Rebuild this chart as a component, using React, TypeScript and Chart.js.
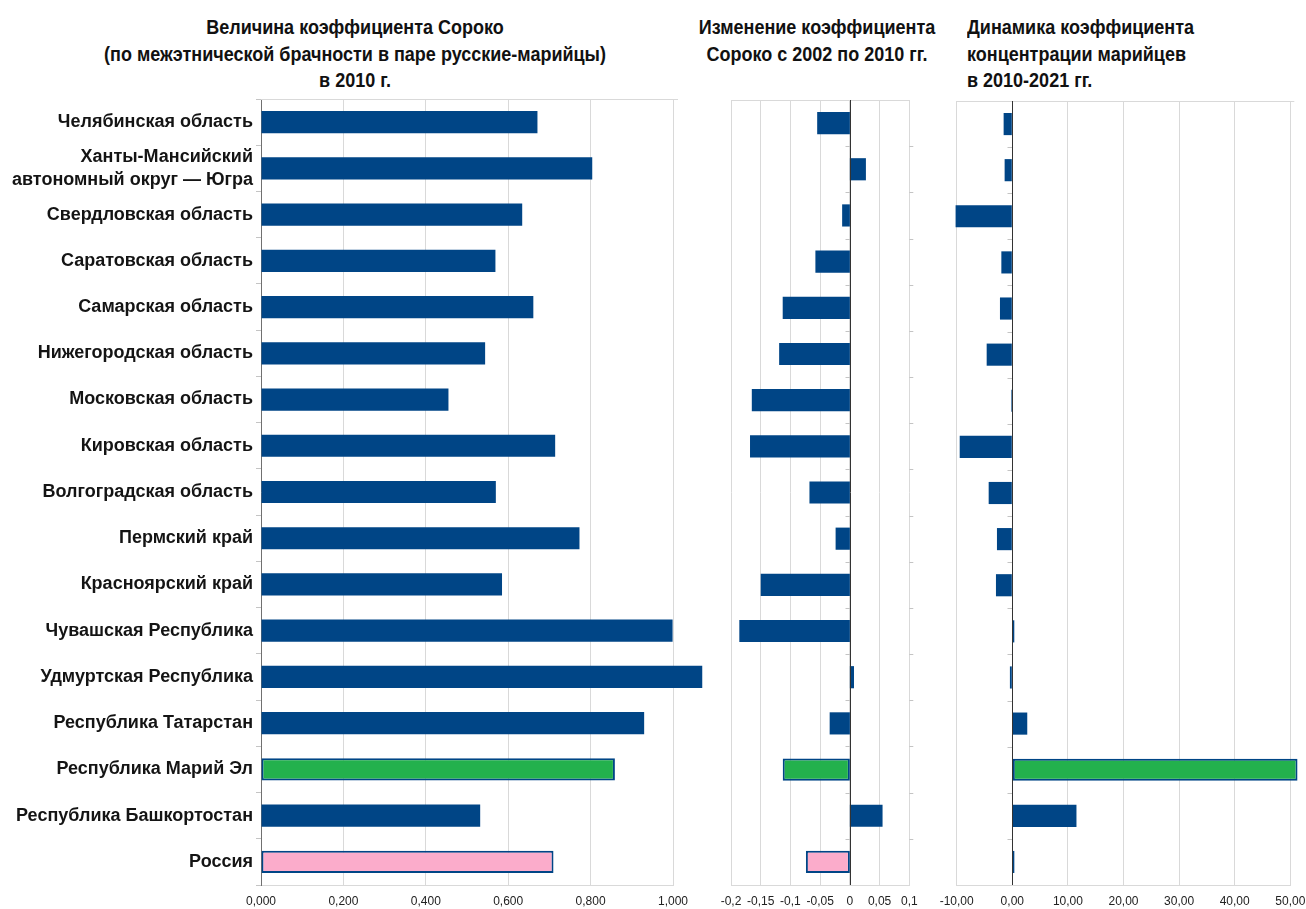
import React, { useEffect, useRef } from 'react';
import { Chart, registerables } from 'chart.js';

Chart.register(...registerables);

const categories: (string | string[])[] = [
  'Челябинская область',
  ['Ханты-Мансийский', 'автономный округ — Югра'],
  'Свердловская область',
  'Саратовская область',
  'Самарская область',
  'Нижегородская область',
  'Московская область',
  'Кировская область',
  'Волгоградская область',
  'Пермский край',
  'Красноярский край',
  'Чувашская Республика',
  'Удмуртская Республика',
  'Республика Татарстан',
  'Республика Марий Эл',
  'Республика Башкортостан',
  'Россия',
];

const soroko2010 = [0.671, 0.804, 0.634, 0.569, 0.661, 0.544, 0.455, 0.714, 0.570, 0.773, 0.585, 0.999, 1.071, 0.930, 0.859, 0.532, 0.710];
const sorokoChange = [-0.055, 0.027, -0.013, -0.058, -0.113, -0.119, -0.165, -0.168, -0.068, -0.024, -0.150, -0.186, 0.007, -0.034, -0.113, 0.055, -0.074];
const concentrationChange = [-1.56, -1.38, -10.2, -1.97, -2.22, -4.61, -0.2, -9.46, -4.25, -2.76, -2.94, 0.36, -0.43, 2.69, 51.3, 11.54, 0.41];

const titles = {
  soroko: ['Величина коэффициента Сороко', '(по межэтнической брачности в паре русские-марийцы)', 'в 2010 г.'],
  change: ['Изменение коэффициента', 'Сороко с 2002 по 2010 гг.'],
  conc: ['Динамика коэффициента', 'концентрации марийцев', 'в 2010-2021 гг.'],
};

const BLUE = '#004586';
const GREEN = '#23b14d';
const PINK = '#fbaccb';
const HIGHLIGHT_GREEN = 'Республика Марий Эл';
const HIGHLIGHT_PINK = 'Россия';

const fillColors = categories.map((c) =>
  c === HIGHLIGHT_GREEN ? GREEN : c === HIGHLIGHT_PINK ? PINK : BLUE
);
const borderWidths = categories.map((c) => (c === HIGHLIGHT_GREEN || c === HIGHLIGHT_PINK ? 2 : 0));

const framePlugin = {
  id: 'frame',
  beforeDatasetsDraw(chart: any, _args: any, opts: any) {
    const { ctx, chartArea, scales } = chart;
    ctx.save();
    ctx.strokeStyle = '#d9d9d9';
    ctx.lineWidth = 1;
    ctx.beginPath();
    ctx.moveTo(chartArea.left, Math.round(chartArea.top) + 0.5);
    ctx.lineTo(chartArea.right + (opts.topExtra || 0), Math.round(chartArea.top) + 0.5);
    ctx.stroke();
    if (opts.zeroTicks) {
      const ys = scales.y;
      const x = Math.round(scales.x.getPixelForValue(0)) + 0.5;
      const p0 = ys.getPixelForValue(0);
      const step = ys.getPixelForValue(1) - p0;
      ctx.strokeStyle = '#c4c4c4';
      for (let k = 1; k < categories.length; k++) {
        const yy = Math.round(p0 - step / 2 + k * step) + 0.5;
        ctx.beginPath();
        ctx.moveTo(x - 5, yy);
        ctx.lineTo(x, yy);
        ctx.stroke();
        if (opts.rightTicks) {
          ctx.beginPath();
          ctx.moveTo(chartArea.right, yy);
          ctx.lineTo(chartArea.right + 4, yy);
          ctx.stroke();
        }
      }
    }
    ctx.restore();
  },
  afterDatasetsDraw(chart: any, _args: any, opts: any) {
    if (!opts.zeroAxis) return;
    const { ctx, chartArea, scales } = chart;
    const x = Math.round(scales.x.getPixelForValue(0)) + 0.5;
    ctx.save();
    ctx.strokeStyle = '#333333';
    ctx.lineWidth = 1;
    ctx.beginPath();
    ctx.moveTo(x, chartArea.top);
    ctx.lineTo(x, chartArea.bottom);
    ctx.stroke();
    ctx.restore();
  },
};

const tickFont = { family: '"Liberation Sans", Arial, sans-serif', size: 12 };

function fmt(decimals: number, strip: boolean) {
  return (v: any) => {
    const n = Number(v);
    let s = n.toFixed(decimals);
    if (strip) s = String(parseFloat(s));
    return s.replace('.', ',');
  };
}

function makeConfig(opts: {
  data: number[];
  min: number;
  max: number;
  step: number;
  format: (v: any) => string;
  showLabels: boolean;
  padding: { left: number; right: number; top: number; bottom: number };
  plugin: any;
}) {
  return {
    type: 'bar' as const,
    data: {
      labels: categories,
      datasets: [
        {
          data: opts.data,
          backgroundColor: fillColors,
          borderColor: BLUE,
          borderWidth: borderWidths,
          borderSkipped: false,
          categoryPercentage: 1,
          barPercentage: 0.48,
          clip: false,
        },
      ],
    },
    options: {
      indexAxis: 'y' as const,
      responsive: false,
      animation: false,
      devicePixelRatio: 1,
      layout: { padding: opts.padding },
      plugins: {
        legend: { display: false },
        title: { display: false },
        tooltip: { enabled: false },
        frame: opts.plugin,
      },
      scales: {
        x: {
          type: 'linear',
          min: opts.min,
          max: opts.max,
          ticks: {
            stepSize: opts.step,
            callback: opts.format,
            font: tickFont,
            color: '#222',
            padding: 9,
            maxRotation: 0,
            autoSkip: false,
          },
          grid: { color: '#d9d9d9', drawTicks: false, lineWidth: 1 },
          border: { display: true, color: '#d9d9d9' },
          afterFit: (scale: any) => {
            scale.height = 24;
          },
        },
        y: opts.showLabels
          ? {
              type: 'category',
              offset: true,
              ticks: {
                font: { family: '"Liberation Sans", Arial, sans-serif', size: 18, weight: 'bold', lineHeight: 1.25 },
                color: '#141414',
                padding: 3,
                autoSkip: false,
              },
              grid: { drawOnChartArea: false, drawTicks: true, tickLength: 5, color: '#c4c4c4', offset: true },
              border: { display: true, color: '#707070' },
              afterFit: (scale: any) => {
                scale.width = 261;
              },
            }
          : {
              type: 'category',
              offset: true,
              display: false,
            },
      },
    },
    plugins: [framePlugin],
  };
}

function BarPanel(props: { left: number; width: number; config: any }) {
  const ref = useRef<HTMLCanvasElement | null>(null);
  useEffect(() => {
    if (!ref.current) return;
    const chart = new Chart(ref.current, props.config);
    return () => chart.destroy();
  }, []);
  return (
    <canvas
      ref={ref}
      width={props.width}
      height={909}
      style={{ position: 'absolute', left: props.left, top: 0, width: props.width, height: 909 }}
    />
  );
}

const titleStyle: React.CSSProperties = {
  position: 'absolute',
  top: 14,
  fontFamily: '"Liberation Sans Narrow", "Liberation Sans", Arial, sans-serif',
  fontWeight: 'bold',
  fontSize: 20,
  lineHeight: '26.5px',
  color: '#111',
  whiteSpace: 'nowrap',
};

function TitleBlock(props: { lines: string[]; left: number; width?: number; align: 'center' | 'left' }) {
  const origin = props.align === 'center' ? 'center top' : 'left top';
  return (
    <div
      style={{
        ...titleStyle,
        left: props.left,
        width: props.width,
        textAlign: props.align,
        transform: 'scaleX(0.9)',
        transformOrigin: origin,
      }}
    >
      {props.lines.map((t, i) => (
        <div key={i}>{t}</div>
      ))}
    </div>
  );
}

export default function App() {
  const cfg1 = makeConfig({
    data: soroko2010,
    min: 0,
    max: 1,
    step: 0.2,
    format: fmt(3, false),
    showLabels: true,
    padding: { left: 0, right: 47, top: 99, bottom: 0 },
    plugin: { topExtra: 5, zeroTicks: false, zeroAxis: false },
  });
  const cfg2 = makeConfig({
    data: sorokoChange,
    min: -0.2,
    max: 0.1,
    step: 0.05,
    format: fmt(2, true),
    showLabels: false,
    padding: { left: 31, right: 30.7, top: 100, bottom: 0 },
    plugin: { topExtra: 0, zeroTicks: true, rightTicks: true, zeroAxis: true },
  });
  const cfg3 = makeConfig({
    data: concentrationChange,
    min: -10,
    max: 50,
    step: 10,
    format: fmt(2, false),
    showLabels: false,
    padding: { left: 26.7, right: 39.7, top: 101, bottom: 0 },
    plugin: { topExtra: 4, zeroTicks: true, rightTicks: false, zeroAxis: true },
  });

  return (
    <div style={{ position: 'fixed', left: 0, top: 0, width: 1306, height: 909, background: '#fff', overflow: 'hidden' }}>
      <TitleBlock lines={titles.soroko} left={55} width={600} align="center" />
      <TitleBlock lines={titles.change} left={667} width={300} align="center" />
      <TitleBlock lines={titles.conc} left={967} align="left" />
      <BarPanel left={0} width={720} config={cfg1} />
      <BarPanel left={700} width={240} config={cfg2} />
      <BarPanel left={930} width={400} config={cfg3} />
    </div>
  );
}
